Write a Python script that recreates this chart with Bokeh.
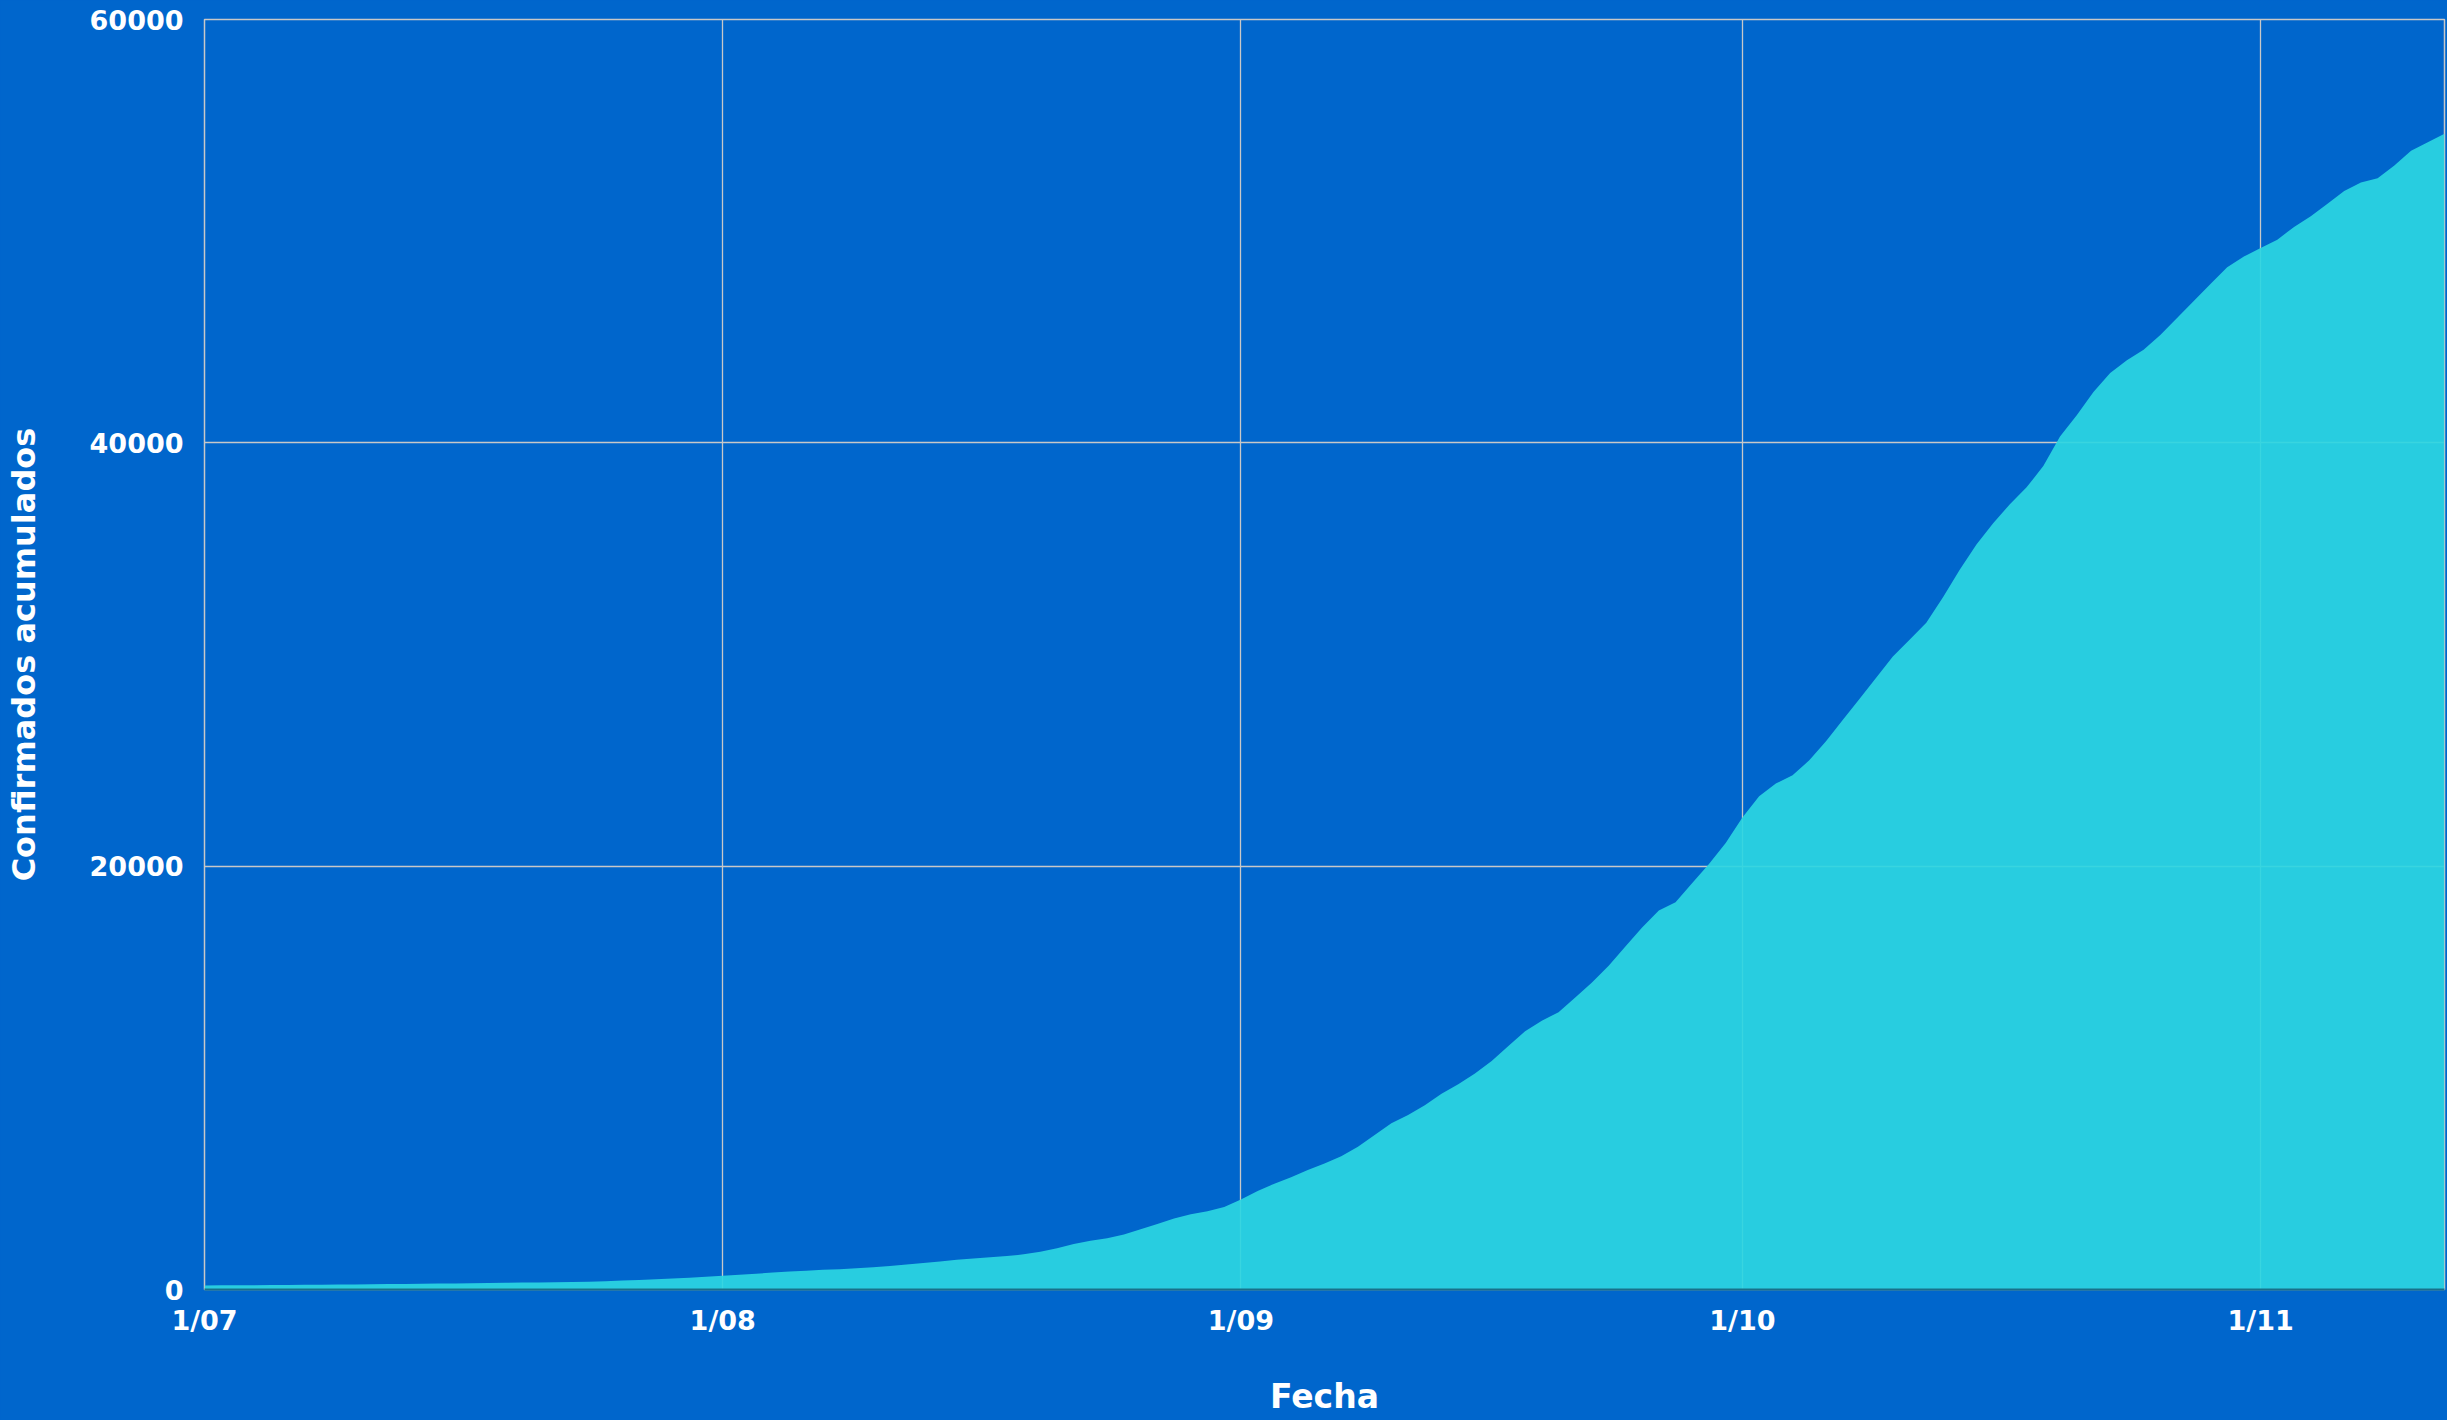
from datetime import datetime, timedelta

from bokeh.plotting import figure
from bokeh.models import (ColumnDataSource, Range1d, MonthsTicker, DatetimeTickFormatter,
                          SingleIntervalTicker, NumeralTickFormatter, GlobalInlineStyleSheet)
from bokeh.embed import file_html
from bokeh.resources import INLINE

start_date = datetime(2020, 7, 1)
end_date = datetime(2020, 11, 12)

confirmados = [
    # julio
    190, 195, 200, 205, 210, 215, 220, 228, 235, 240, 248, 255, 262, 270, 278, 285,
    295, 305, 315, 325, 335, 345, 355, 370, 390, 420, 450, 480, 520, 560, 600,
    # agosto
    650, 700, 750, 800, 850, 890, 930, 960, 1000, 1050, 1110, 1180, 1250, 1320, 1400, 1460,
    1520, 1580, 1660, 1780, 1950, 2150, 2300, 2420, 2600, 2850, 3100, 3350, 3550, 3700, 3900,
    # septiembre
    4250, 4650, 5000, 5300, 5650, 5950, 6300, 6750, 7300, 7850, 8250, 8700, 9250, 9700, 10200,
    10800, 11500, 12200, 12700, 13100, 13800, 14500, 15300, 16200, 17100, 17900, 18300, 19200,
    20100, 21100,
    # octubre
    22300, 23300, 23900, 24300, 25000, 25900, 26900, 27900, 28900, 29900, 30700, 31500, 32700,
    34000, 35200, 36200, 37100, 37900, 38900, 40300, 41300, 42400, 43300, 43900, 44400, 45100,
    45900, 46700, 47500, 48300, 48800,
    # noviembre
    49200, 49600, 50200, 50700, 51300, 51900, 52300, 52500, 53100, 53800, 54200, 54600,
]
fechas = [start_date + timedelta(days=i) for i in range(len(confirmados))]

y_ticks_interval = 20000
y_max = 60000

BG = "#0066cc"
FILL = "#2bd6e2"
GRID = "#c8c8c8"
FONT = "DejaVu Sans"

source = ColumnDataSource(data=dict(fecha=fechas, confirmados=confirmados))

p = figure(width=2447, height=1420, output_backend="svg", toolbar_location=None,
           x_axis_type="datetime",
           x_range=Range1d(start_date, end_date), y_range=Range1d(0, y_max),
           min_border_left=204, min_border_right=3, min_border_top=19, min_border_bottom=131)

p.varea(x="fecha", y1=0, y2="confirmados", source=source, fill_color=FILL, fill_alpha=0.92)

p.background_fill_color = BG
p.border_fill_color = BG
p.outline_line_color = GRID
p.outline_line_width = 1.5

p.xgrid.grid_line_color = GRID
p.ygrid.grid_line_color = GRID
p.xgrid.grid_line_width = 1.3
p.ygrid.grid_line_width = 1.3

p.xaxis.ticker = MonthsTicker(months=list(range(12)))
p.xaxis.formatter = DatetimeTickFormatter(months="%-d/%m", days="%-d/%m")
p.yaxis.ticker = SingleIntervalTicker(interval=y_ticks_interval)
p.yaxis.formatter = NumeralTickFormatter(format="0")
p.xgrid.ticker = p.xaxis.ticker
p.ygrid.ticker = p.yaxis.ticker

p.xaxis.axis_label = "Fecha"
p.yaxis.axis_label = "Confirmados acumulados"

for ax in (p.xaxis, p.yaxis):
    ax.major_tick_line_color = None
    ax.minor_tick_line_color = None
    ax.major_tick_out = 0
    ax.major_tick_in = 0
    ax.major_label_text_font = FONT
    ax.major_label_text_font_style = "bold"
    ax.major_label_text_font_size = "27px"
    ax.major_label_text_color = "white"
    ax.axis_label_text_font = FONT
    ax.axis_label_text_font_style = "bold"
    ax.axis_label_text_font_size = "32px"
    ax.axis_label_text_color = "white"

p.xaxis.axis_label_text_font_size = "33px"
p.xaxis.axis_line_color = "#17718a"
p.xaxis.axis_line_width = 2
p.yaxis.axis_line_color = None
p.xaxis.major_label_standoff = 15
p.xaxis.axis_label_standoff = 38
p.yaxis.major_label_standoff = 17
p.yaxis.axis_label_standoff = 44

p.stylesheets = [GlobalInlineStyleSheet(css="html, body { background: #0066cc; }")]

open("out.html", "w").write(file_html(p, INLINE))
